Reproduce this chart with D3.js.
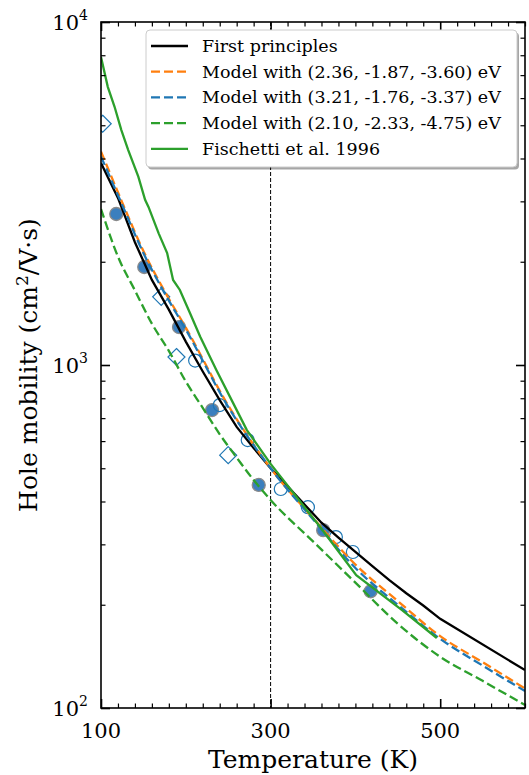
<!DOCTYPE html>
<html>
<head>
<meta charset="utf-8">
<script src="https://cdn.jsdelivr.net/npm/d3@7"></script>
<style>
  body { margin: 0; background: #fff; }
  text { font-family: "DejaVu Serif", serif; fill: #000; }
</style>
</head>
<body>
<svg id="mobility" width="529" height="775"></svg>
<script>
// first principles
const tempFP = [100, 120, 140, 160, 180, 200, 220, 240, 260, 280, 300, 320, 340, 360, 380, 400, 420, 440, 460, 480, 500, 600];
const muFP = [3880, 3070, 2280, 1770, 1450, 1170, 957, 790, 660, 573, 500, 443, 392, 347, 314, 285, 259, 236, 216, 199, 182, 129];

// model curves
const tempModel = [100, 125, 150, 175, 200, 250, 300, 350, 400, 450, 500, 550, 600];
const muOrange = [4190, 2980, 2150, 1640, 1285, 762, 500, 358, 262, 205, 162, 136, 114];
const muBlue = [4050, 2930, 2120, 1620, 1270, 755, 500, 355, 256, 200, 159, 133, 112];
const tempGreen = [100, 120, 140, 160, 180, 200, 220, 240, 260, 280, 300, 350, 400, 450, 500, 550, 600];
const muGreen = [2850, 2070, 1650, 1320, 1100, 895, 750, 628, 537, 462, 404, 306, 232, 176, 141, 120, 102];

// Fischetti et al. 1996
const tempFis = [100, 108, 116, 124, 132, 144, 152, 156, 168, 178, 185, 193, 205, 217, 236, 256, 272, 300, 358, 401, 455, 496];
const muFis = [7900, 6470, 5660, 4840, 4240, 3540, 3030, 2890, 2420, 2120, 1770, 1655, 1415, 1209, 967, 773, 646, 515, 338, 244, 193, 160];

// experiments
const tempFilled = [118, 151, 192, 231, 286, 362, 418];
const muFilled = [2756, 1931, 1290, 739, 447, 330, 219];
const tempOpen = [211, 240, 273, 312, 344, 377, 397];
const muOpen = [1030, 764, 604, 435, 385, 315, 285];
const tempDiamond = [102, 171, 189, 250];
const muDiamond = [5050, 1580, 1055, 546];

const legendLabels = ["First principles", "Model with (2.36, -1.87, -3.60) eV", "Model with (3.21, -1.76, -3.37) eV",
    "Model with (2.10, -2.33, -4.75) eV", "Fischetti et al. 1996"];
const xTickValues = [100, 300, 500];
const yTickValues = [100, 1000, 10000];
const yTickExp = ["2", "3", "4"];

const svg = d3.select("svg#mobility");
const width = +svg.attr("width");
const height = +svg.attr("height");
const margin = { top: 22, right: 4, bottom: 67, left: 101 };
const chartWidth = width - margin.left - margin.right;
const chartHeight = height - margin.top - margin.bottom;

const tempScale = d3.scaleLinear().domain([100, 600]).range([0, chartWidth]);
const muScale = d3.scaleLog().domain([100, 10000]).range([chartHeight, 0]);

const chart = svg.append("g").attr("transform", `translate(${margin.left},${margin.top})`);

svg.append("defs").append("clipPath").attr("id", "plotClip")
    .append("rect").attr("width", chartWidth).attr("height", chartHeight);

const plot = chart.append("g").attr("clip-path", "url(#plotClip)");

// 300 K marker line
plot.append("line")
    .attr("x1", tempScale(300)).attr("x2", tempScale(300))
    .attr("y1", 0).attr("y2", chartHeight)
    .attr("stroke", "#000").attr("stroke-width", 1)
    .attr("stroke-dasharray", "4,2");

// experimental points
const expColor = "#1f77b4";
plot.selectAll("circle.filled").data(d3.zip(tempFilled, muFilled))
    .join("circle").attr("class", "filled")
    .attr("cx", d => tempScale(d[0])).attr("cy", d => muScale(d[1]))
    .attr("r", 6.5)
    .attr("fill", "#3b7fbe").attr("stroke", "#8a8a8a").attr("stroke-width", 1.3);

plot.selectAll("circle.open").data(d3.zip(tempOpen, muOpen))
    .join("circle").attr("class", "open")
    .attr("cx", d => tempScale(d[0])).attr("cy", d => muScale(d[1]))
    .attr("r", 6.5)
    .attr("fill", "none").attr("stroke", expColor).attr("stroke-width", 1.2);

plot.selectAll("path.diamond").data(d3.zip(tempDiamond, muDiamond))
    .join("path").attr("class", "diamond")
    .attr("d", d => {
        const cx = tempScale(d[0]), cy = muScale(d[1]), s = 8.5;
        return `M${cx},${cy - s}L${cx + s},${cy}L${cx},${cy + s}L${cx - s},${cy}Z`;
    })
    .attr("fill", "none").attr("stroke", expColor).attr("stroke-width", 1.2);

// curves
const series = [
    { temps: tempFP, mus: muFP, color: "#000000", dash: null, curve: d3.curveLinear },
    { temps: tempModel, mus: muOrange, color: "#ff7f0e", dash: "9,4", curve: d3.curveMonotoneX },
    { temps: tempModel, mus: muBlue, color: "#1f77b4", dash: "9,4", curve: d3.curveMonotoneX },
    { temps: tempGreen, mus: muGreen, color: "#2ca02c", dash: "9,4", curve: d3.curveMonotoneX },
    { temps: tempFis, mus: muFis, color: "#2ca02c", dash: null, curve: d3.curveLinear }
];

series.forEach(s => {
    const line = d3.line()
        .x(d => tempScale(d[0]))
        .y(d => muScale(d[1]))
        .curve(s.curve);
    plot.append("path")
        .datum(d3.zip(s.temps, s.mus))
        .attr("d", line)
        .attr("fill", "none")
        .attr("stroke", s.color)
        .attr("stroke-width", 2.3)
        .attr("stroke-dasharray", s.dash);
});

// ticks, all pointing inward
const xMinor = d3.range(100, 601, 20).filter(t => !xTickValues.includes(t));
const yMinor = [];
[100, 1000].forEach(dec => d3.range(2, 10).forEach(k => yMinor.push(dec * k)));

function addTicks(axisGen, transform, values, size, strokeW) {
    const g = chart.append("g")
        .attr("transform", transform)
        .call(axisGen.tickValues(values).tickSizeInner(-size).tickSizeOuter(0).tickFormat(""));
    g.select(".domain").remove();
    g.selectAll("line").attr("stroke", "#000").attr("stroke-width", strokeW);
}

addTicks(d3.axisBottom(tempScale), `translate(0,${chartHeight})`, xTickValues, 9, 1.6);
addTicks(d3.axisBottom(tempScale), `translate(0,${chartHeight})`, xMinor, 4.5, 1.2);
addTicks(d3.axisTop(tempScale), "translate(0,0)", xTickValues, 9, 1.6);
addTicks(d3.axisTop(tempScale), "translate(0,0)", xMinor, 4.5, 1.2);
addTicks(d3.axisLeft(muScale), "translate(0,0)", yTickValues, 9, 1.6);
addTicks(d3.axisLeft(muScale), "translate(0,0)", yMinor, 4.5, 1.2);
addTicks(d3.axisRight(muScale), `translate(${chartWidth},0)`, yTickValues, 9, 1.6);
addTicks(d3.axisRight(muScale), `translate(${chartWidth},0)`, yMinor, 4.5, 1.2);

chart.append("rect")
    .attr("width", chartWidth).attr("height", chartHeight)
    .attr("fill", "none").attr("stroke", "#000").attr("stroke-width", 1.6);

// tick labels
chart.selectAll("text.xtick").data(xTickValues)
    .join("text").attr("class", "xtick")
    .attr("x", d => tempScale(d))
    .attr("y", chartHeight + 30)
    .attr("text-anchor", "middle")
    .attr("font-size", 21)
    .text(d => d);

const yLabels = chart.selectAll("text.ytick").data(d3.zip(yTickValues, yTickExp))
    .join("text").attr("class", "ytick")
    .attr("x", -13)
    .attr("y", d => muScale(d[0]) + 8)
    .attr("text-anchor", "end")
    .attr("font-size", 21);
yLabels.append("tspan").text("10");
yLabels.append("tspan").attr("dy", -10).attr("font-size", 14).text(d => d[1]);

// axis titles
svg.append("text")
    .attr("x", margin.left + chartWidth / 2)
    .attr("y", 768)
    .attr("text-anchor", "middle")
    .attr("font-size", 25)
    .text("Temperature (K)");

const yTitle = svg.append("text")
    .attr("transform", `translate(37,${margin.top + chartHeight / 2}) rotate(-90)`)
    .attr("text-anchor", "middle")
    .attr("font-size", 25);
yTitle.append("tspan").text("Hole mobility (cm");
yTitle.append("tspan").attr("dy", -9).attr("font-size", 17).text("2");
yTitle.append("tspan").attr("dy", 9).text("/V·s)");

// legend
const legend = chart.append("g").attr("transform", "translate(45,8)");
const legendW = 371, legendH = 137;
legend.append("rect")
    .attr("x", 2).attr("y", 2.5)
    .attr("width", legendW).attr("height", legendH)
    .attr("rx", 4).attr("fill", "#000").attr("opacity", 0.35);
legend.append("rect")
    .attr("width", legendW).attr("height", legendH)
    .attr("rx", 4).attr("fill", "#fff").attr("stroke", "#cccccc").attr("stroke-width", 1);

series.forEach((s, i) => {
    const ly = 16 + i * 25.7;
    legend.append("line")
        .attr("x1", 5).attr("x2", 42)
        .attr("y1", ly).attr("y2", ly)
        .attr("stroke", s.color).attr("stroke-width", 2.3)
        .attr("stroke-dasharray", s.dash);
    legend.append("text")
        .attr("x", 56).attr("y", ly + 6)
        .attr("font-size", 17.5)
        .text(legendLabels[i]);
});
</script>
</body>
</html>
